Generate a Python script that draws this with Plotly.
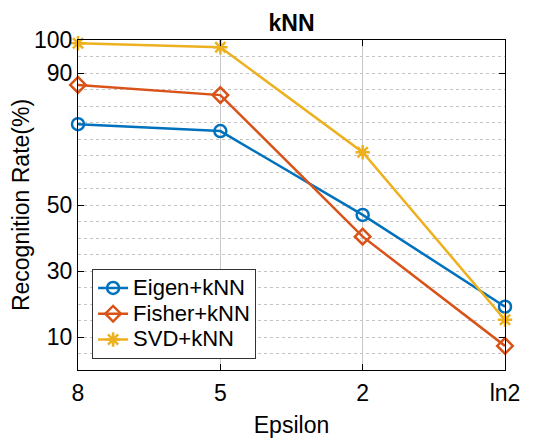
import plotly.graph_objects as go

epsilon = ["8", "5", "2", "ln2"]
eigen_knn = [74.5, 72.4, 47.0, 19.2]
fisher_knn = [86.4, 83.3, 40.4, 7.3]
svd_knn = [99.0, 97.8, 66.0, 15.2]
y_ticks = [10, 30, 50, 90, 100]

series = [
    ("Eigen+kNN", eigen_knn, "#0072BD", "circle-open"),
    ("Fisher+kNN", fisher_knn, "#D95319", "diamond-open"),
    ("SVD+kNN", svd_knn, "#EDB120", "asterisk-open"),
]

fig = go.Figure()
for name, vals, color, sym in series:
    fig.add_trace(go.Scatter(
        x=epsilon, y=vals, name='<span style="font-size:22px">' + name + '</span>',
        mode="lines+markers",
        line=dict(color=color, width=2.5),
        marker=dict(symbol=sym, size=12, color=color, line=dict(color=color, width=2.5)),
        cliponaxis=False,
    ))

font = "Liberation Sans, Arial, Helvetica, sans-serif"
fig.update_layout(
    width=546, height=444,
    margin=dict(l=70, r=49, t=32, b=82, autoexpand=False),
    paper_bgcolor="white", plot_bgcolor="white",
    font=dict(family=font, size=23, color="black"),
    title=dict(text="<b>kNN</b>", x=(70 + 427 / 2) / 546, xanchor="center",
               y=1 - 14.5 / 444, yanchor="middle",
               font=dict(size=23, family=font)),
    showlegend=True,
    legend=dict(x=0.033, y=0.033, xanchor="left", yanchor="bottom",
                bordercolor="#333", borderwidth=1, bgcolor="white",
                font=dict(size=17.5, family=font), tracegroupgap=0,
                itemwidth=30),
)
fig.update_xaxes(
    type="category", range=[0, 3], automargin=False,
    showline=True, linecolor="black", linewidth=1, mirror="ticks",
    ticks="inside", ticklen=6, tickcolor="black",
    showgrid=True, gridcolor="#c8c8c8", gridwidth=1,
    ticklabelstandoff=2,
    title=dict(text="Epsilon", font=dict(size=23), standoff=12),
    tickfont=dict(size=23),
)
fig.update_yaxes(
    range=[0, 100], tickvals=y_ticks, automargin=False,
    showline=True, linecolor="black", linewidth=1, mirror="ticks",
    ticks="inside", ticklen=6, tickcolor="black",
    showgrid=False, zeroline=False,
    minor=dict(dtick=5, tick0=0, showgrid=True, gridcolor="#c4c4c4", griddash="dot", gridwidth=1),
    title=dict(text="Recognition Rate(%)", font=dict(size=23), standoff=0),
    tickfont=dict(size=23),
)
fig.write_html("out.html")
